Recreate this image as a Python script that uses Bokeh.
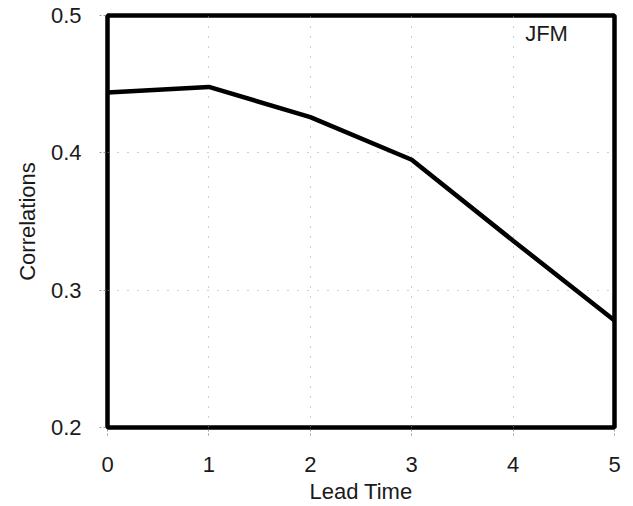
from bokeh.plotting import figure
from bokeh.models import Range1d, Label, FixedTicker
from bokeh.embed import file_html
from bokeh.resources import INLINE

lead_time = [0, 1, 2, 3, 4, 5]
correlations = [0.444, 0.448, 0.426, 0.395, 0.336, 0.278]
x_ticks = [0, 1, 2, 3, 4, 5]
y_ticks = [0.2, 0.3, 0.4, 0.5]
season = "JFM"

FONT = "Liberation Sans"

p = figure(width=625, height=506, output_backend="svg", toolbar_location=None,
           x_range=Range1d(0, 5), y_range=Range1d(0.2, 0.5),
           min_border_left=107, min_border_right=11, min_border_top=15, min_border_bottom=79)

p.line(lead_time, correlations, line_color="black", line_width=4.5)

p.outline_line_color = "black"
p.outline_line_width = 4.5
p.outline_line_alpha = 1.0

p.xaxis.ticker = FixedTicker(ticks=x_ticks)
p.yaxis.ticker = FixedTicker(ticks=y_ticks)
p.yaxis.formatter.use_scientific = False

for ax in (p.xaxis, p.yaxis):
    ax.axis_line_color = None
    ax.major_tick_line_color = "#9a9a9a"
    ax.major_tick_line_dash = "2 2"
    ax.major_tick_out = 8
    ax.major_tick_in = 0
    ax.minor_tick_line_color = None
    ax.major_label_text_font = FONT
    ax.major_label_text_font_size = "22px"
    ax.major_label_text_color = "#1a1a1a"
    ax.axis_label_text_font = FONT
    ax.axis_label_text_font_size = "22px"
    ax.axis_label_text_font_style = "normal"
    ax.axis_label_text_color = "#1a1a1a"

p.xaxis.axis_label = "Lead Time"
p.yaxis.axis_label = "Correlations"
p.xaxis.major_label_standoff = 21
p.yaxis.major_label_standoff = 18
p.xaxis.axis_label_standoff = 4
p.yaxis.axis_label_standoff = 8

p.xgrid.grid_line_color = "#a0a0a0"
p.ygrid.grid_line_color = "#a0a0a0"
p.xgrid.grid_line_dash = "1 9"
p.ygrid.grid_line_dash = "1 9"
p.xgrid.grid_line_width = 1
p.ygrid.grid_line_width = 1

p.add_layout(Label(x=4.33, y=0.487, text=season, text_font=FONT, text_font_size="22px",
                   text_align="center", text_baseline="middle", text_color="#1a1a1a"))

open("out.html", "w").write(file_html(p, INLINE))
